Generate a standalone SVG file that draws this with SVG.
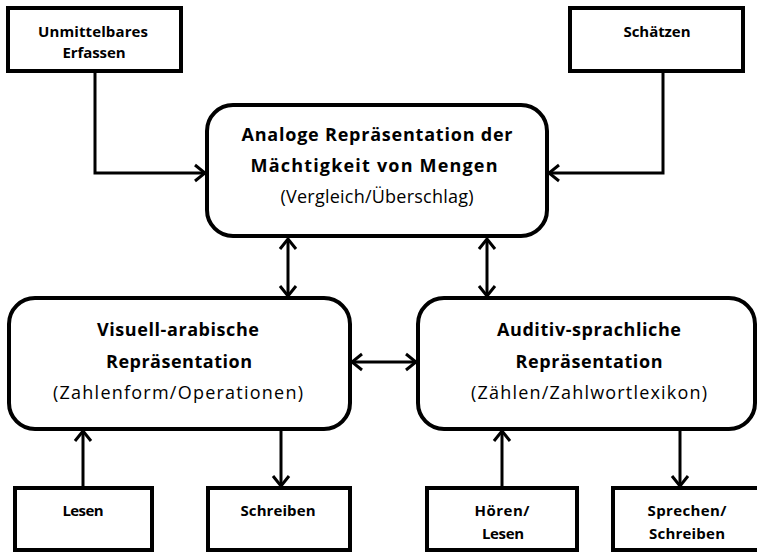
<svg xmlns="http://www.w3.org/2000/svg" width="757" height="552" viewBox="0 0 757 552">
<style>
.box{fill:#fff;stroke:#000;stroke-width:4}
.c{fill:none;stroke:#000;stroke-width:3}
text{font-family:"Open Sans","Noto Sans","Liberation Sans",sans-serif;fill:#000;text-anchor:middle}
.b{font-weight:bold;font-size:19px}
.s{font-size:15px;font-weight:bold}
.l{font-size:18px}
</style>
<defs>
<marker id="ah" markerUnits="userSpaceOnUse" viewBox="-12 -10 14 20" markerWidth="14" markerHeight="20" refX="0" refY="0" orient="auto-start-reverse">
<path d="M-10,-8 L0,0 L-10,8" fill="none" stroke="#000" stroke-width="3"/>
</marker>
</defs>
<g id="connectors">
<path class="c" d="M95,72 V173 H205" marker-end="url(#ah)"/>
<path class="c" d="M663,72 V173 H549" marker-end="url(#ah)"/>
<path class="c" d="M288,239 V296" marker-start="url(#ah)" marker-end="url(#ah)"/>
<path class="c" d="M487,239 V296" marker-start="url(#ah)" marker-end="url(#ah)"/>
<path class="c" d="M352,362 H416" marker-start="url(#ah)" marker-end="url(#ah)"/>
<path class="c" d="M83,487 V431" marker-end="url(#ah)"/>
<path class="c" d="M281,431 V486" marker-end="url(#ah)"/>
<path class="c" d="M502,487 V431" marker-end="url(#ah)"/>
<path class="c" d="M680,431 V486" marker-end="url(#ah)"/>
</g>
<g id="unmittelbar">
<rect class="box" x="8" y="8" width="173" height="63"/>
<text class="s" x="93" y="37" textLength="110" lengthAdjust="spacing">Unmittelbares</text>
<text class="s" x="94" y="58" textLength="63" lengthAdjust="spacing">Erfassen</text>
</g>
<g id="schaetzen">
<rect class="box" x="570" y="8" width="173" height="63"/>
<text class="s" x="657" y="37" textLength="67" lengthAdjust="spacing">Schätzen</text>
</g>
<g id="analog">
<rect class="box" x="207" y="105" width="340" height="131" rx="26"/>
<text class="l b" x="377" y="141" textLength="271" lengthAdjust="spacing">Analoge Repräsentation der</text>
<text class="l b" x="374" y="172" textLength="247" lengthAdjust="spacing">Mächtigkeit von Mengen</text>
<text class="l" x="377" y="203" textLength="193" lengthAdjust="spacing">(Vergleich/Überschlag)</text>
</g>
<g id="visuell">
<rect class="box" x="9" y="298" width="341" height="131" rx="26"/>
<text class="l b" x="178" y="336" textLength="162" lengthAdjust="spacing">Visuell-arabische</text>
<text class="l b" x="179" y="368" textLength="146" lengthAdjust="spacing">Repräsentation</text>
<text class="l" x="178" y="399" textLength="250" lengthAdjust="spacing">(Zahlenform/Operationen)</text>
</g>
<g id="auditiv">
<rect class="box" x="418" y="298" width="337" height="131" rx="26"/>
<text class="l b" x="589" y="336" textLength="184" lengthAdjust="spacing">Auditiv-sprachliche</text>
<text class="l b" x="589" y="368" textLength="147" lengthAdjust="spacing">Repräsentation</text>
<text class="l" x="589" y="399" textLength="236" lengthAdjust="spacing">(Zählen/Zahlwortlexikon)</text>
</g>
<g id="lesen">
<rect class="box" x="15" y="488" width="137" height="62"/>
<text class="s" x="83" y="516" textLength="41" lengthAdjust="spacing">Lesen</text>
</g>
<g id="schreiben">
<rect class="box" x="208" y="488" width="142" height="62"/>
<text class="s" x="278" y="516" textLength="75" lengthAdjust="spacing">Schreiben</text>
</g>
<g id="hoeren">
<rect class="box" x="427" y="488" width="150" height="62"/>
<text class="s" x="502" y="516" textLength="55" lengthAdjust="spacing">Hören/</text>
<text class="s" x="503" y="539" textLength="42" lengthAdjust="spacing">Lesen</text>
</g>
<g id="sprechen">
<rect class="box" x="613" y="488" width="150" height="62"/>
<text class="s" x="687" y="516" textLength="79" lengthAdjust="spacing">Sprechen/</text>
<text class="s" x="687" y="539" textLength="76" lengthAdjust="spacing">Schreiben</text>
</g>
</svg>
